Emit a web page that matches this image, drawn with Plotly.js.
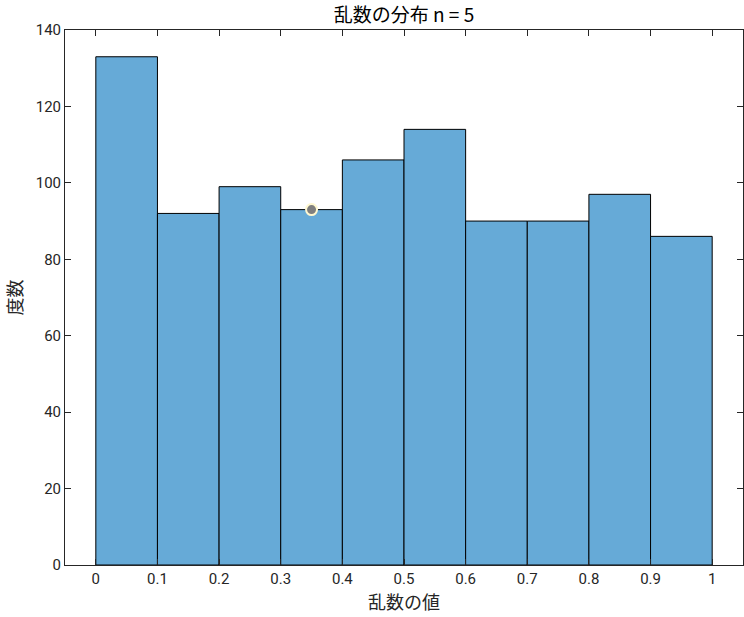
<!DOCTYPE html>
<html><head><meta charset="utf-8">
<script src="https://cdn.plot.ly/plotly-3.0.1.min.js"></script>
<style>body{margin:0;background:#fff}#chart{width:744px;height:617px}</style>
</head><body><div id="chart"></div>
<script>
const binEdges = [0,0.1,0.2,0.3,0.4,0.5,0.6,0.7,0.8,0.9,1.0];
const counts = [133,92,99,93,106,114,90,90,97,86];
const pointX = [0.35];
const pointY = [93];
const tickVals = [0,0.1,0.2,0.3,0.4,0.5,0.6,0.7,0.8,0.9,1];
const tickText = ['0','0.1','0.2','0.3','0.4','0.5','0.6','0.7','0.8','0.9','1'];
const titleText = '乱数の分布 n = 5';
const xTitle = '乱数の値';
const yTitle = '度数';

const centers = counts.map((c,i)=>(binEdges[i]+binEdges[i+1])/2);
const widths = counts.map((c,i)=>binEdges[i+1]-binEdges[i]);
const font = 'Noto Sans CJK JP, sans-serif';
const tfont = 'Roboto, Noto Sans CJK JP, sans-serif';
const data = [
 {type:'bar', x:centers, y:counts, width:widths,
  marker:{color:'#66aad7', line:{color:'#000', width:1}}, hoverinfo:'none'},
 {type:'scatter', mode:'markers', x:pointX, y:pointY,
  marker:{size:11, color:'#7f7f7f', line:{color:'#fff8d0', width:2}}}
];
const axCommon = {showline:true, mirror:'ticks', linecolor:'#262626', linewidth:1,
  ticks:'inside', ticklen:6, tickcolor:'#262626', showgrid:false, zeroline:false,
  tickfont:{family:tfont, size:15, color:'#262626'}};
const layout = {
 width:744, height:617, showlegend:false, plot_bgcolor:'#fff', paper_bgcolor:'#fff',
 margin:{l:65, r:1, t:30, b:52},
 bargap:0,
 title:{text:titleText, font:{family:font, size:19, color:'#000'}, x:0.5, xref:'paper', y:0.975, yanchor:'middle'},
 xaxis:Object.assign({}, axCommon, {range:[-0.05,1.05], tickvals:tickVals, ticktext:tickText,
   title:{text:xTitle, font:{family:font, size:18, color:'#262626'}, standoff:2}}),
 yaxis:Object.assign({}, axCommon, {range:[0,140], dtick:20,
   title:{text:yTitle, font:{family:font, size:18, color:'#262626'}, standoff:8}})
};
Plotly.newPlot('chart', data, layout, {displayModeBar:false, staticPlot:true});
</script></body></html>
